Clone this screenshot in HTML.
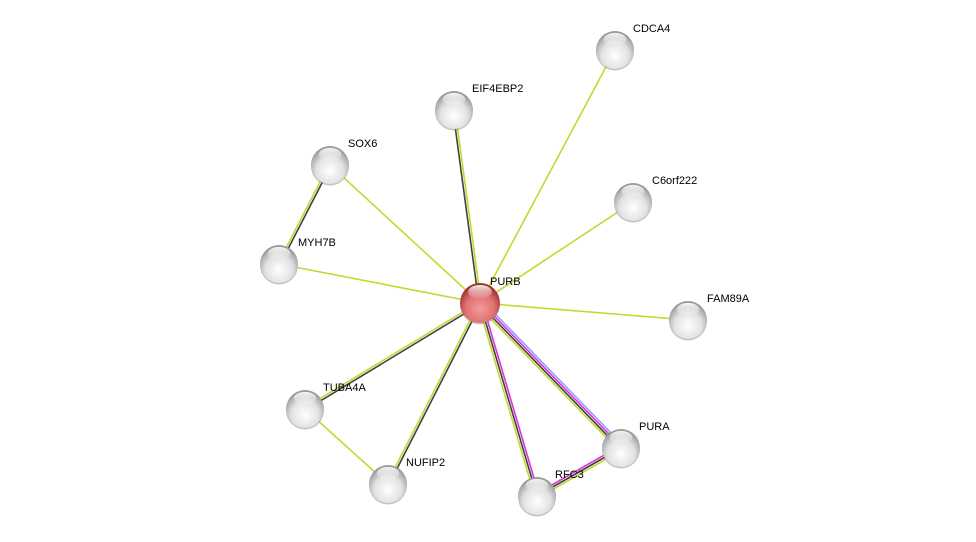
<!DOCTYPE html>
<html><head><meta charset="utf-8"><style>
html,body{margin:0;padding:0;background:#fff;width:976px;height:542px;overflow:hidden}
svg{display:block}
text{font-family:"Liberation Sans",sans-serif;font-size:11px;fill:#000}
</style></head><body>
<svg id="s" width="976" height="542" viewBox="0 0 976 542" xmlns="http://www.w3.org/2000/svg">
<defs>
<radialGradient id="g" cx="50%" cy="65%" r="60%">
<stop offset="0" stop-color="#ffffff"/><stop offset="0.6" stop-color="#e2e2e2"/><stop offset="1" stop-color="#9a9a9a"/>
</radialGradient>
<radialGradient id="r" cx="50%" cy="65%" r="60%">
<stop offset="0" stop-color="#f29a9a"/><stop offset="0.6" stop-color="#e07272"/><stop offset="1" stop-color="#a03030"/>
</radialGradient>
<linearGradient id="hl" x1="0" y1="0" x2="0" y2="1">
<stop offset="0" stop-color="#fff" stop-opacity="0.9"/><stop offset="1" stop-color="#fff" stop-opacity="0"/>
</linearGradient>
</defs>
<g id="edges"></g>
<g id="nodes"></g>
</svg>
<script>
var N={PURB:[480,303],CDCA4:[615,50],EIF4EBP2:[454,110],SOX6:[330,165],C6orf222:[633,202],MYH7B:[279,264],FAM89A:[688,320],TUBA4A:[305,409],PURA:[621,448],NUFIP2:[388,484],RFC3:[537,496]};
var Y="#c2d92e",K="#404040",M="#e030e0",B="#9aa0ff";
var E=[["PURB","CDCA4",[Y]],["PURB","EIF4EBP2",[K,Y]],["PURB","SOX6",[Y]],["PURB","C6orf222",[Y]],["PURB","MYH7B",[Y]],["PURB","FAM89A",[Y]],["PURB","TUBA4A",[K,Y]],["PURB","NUFIP2",[K,Y]],["PURB","RFC3",[M,K,Y]],["PURB","PURA",[B,M,K,Y]],["SOX6","MYH7B",[K,Y]],["TUBA4A","NUFIP2",[Y]],["RFC3","PURA",[M,K,Y]]];
var ns="http://www.w3.org/2000/svg",eg=document.getElementById("edges"),ng=document.getElementById("nodes");
E.forEach(function(e){var a=N[e[0]],b=N[e[1]],dx=b[0]-a[0],dy=b[1]-a[1],L=Math.hypot(dx,dy),px=-dy/L,py=dx/L,n=e[2].length;
e[2].forEach(function(c,i){var o=(i-(n-1)/2)*2.2;var l=document.createElementNS(ns,"line");
l.setAttribute("x1",a[0]+px*o);l.setAttribute("y1",a[1]+py*o);l.setAttribute("x2",b[0]+px*o);l.setAttribute("y2",b[1]+py*o);
l.setAttribute("stroke",c);l.setAttribute("stroke-width","1.6");eg.appendChild(l);});});
var lab={PURB:[490,285],CDCA4:[633,32],EIF4EBP2:[472,92],SOX6:[348,147],C6orf222:[652,184],MYH7B:[298,246],FAM89A:[707,302],TUBA4A:[323,391],PURA:[639,430],NUFIP2:[406,466],RFC3:[555,478]};
for(var k in N){var p=N[k],red=k=="PURB",R=red?20:19;
var c=document.createElementNS(ns,"circle");c.setAttribute("cx",p[0]);c.setAttribute("cy",p[1]+1.5);c.setAttribute("r",R);c.setAttribute("fill","#888");c.setAttribute("opacity","0.5");ng.appendChild(c);
c=document.createElementNS(ns,"circle");c.setAttribute("cx",p[0]);c.setAttribute("cy",p[1]);c.setAttribute("r",R);c.setAttribute("fill",red?"url(#r)":"url(#g)");ng.appendChild(c);
var h=document.createElementNS(ns,"ellipse");h.setAttribute("cx",p[0]);h.setAttribute("cy",p[1]-R*0.55);h.setAttribute("rx",R*0.6);h.setAttribute("ry",R*0.35);h.setAttribute("fill","url(#hl)");ng.appendChild(h);
var t=document.createElementNS(ns,"text");t.setAttribute("x",lab[k][0]);t.setAttribute("y",lab[k][1]);t.textContent=k;ng.appendChild(t);}
</script>
</body></html>
